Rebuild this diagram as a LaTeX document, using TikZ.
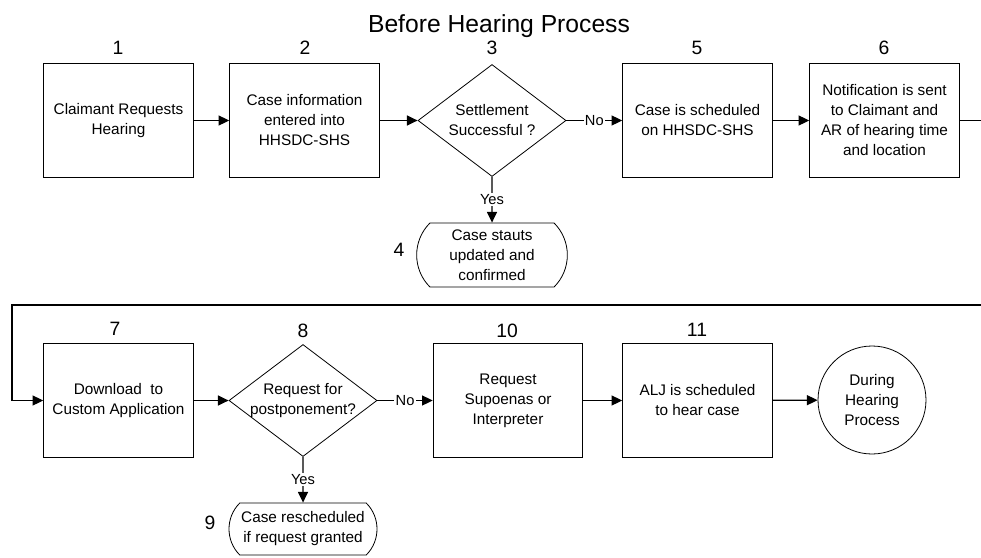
\documentclass[tikz,border=0pt]{standalone}
\usepackage{fontspec}
\setmainfont{Liberation Sans}
\usetikzlibrary{positioning,arrows.meta,shapes.geometric,shapes.misc}
\tikzset{
  stepbox/.style={draw,line width=0.9pt,minimum width=112pt,minimum height=85pt,align=center,font=\fontsize{11.5}{15}\selectfont},
  decide/.style={draw,diamond,aspect=1.33,line width=0.6pt,inner xsep=-3pt,inner ysep=0pt,minimum width=111pt,minimum height=84pt,align=center,font=\fontsize{11.5}{15}\selectfont},
  endcap/.style={draw,rounded rectangle,rounded rectangle arc length=90,line width=0.6pt,inner xsep=0pt,align=center,font=\fontsize{11.5}{15}\selectfont},
  num/.style={font=\fontsize{14.5}{17}\selectfont},
  tag/.style={fill=white,inner sep=1pt,font=\fontsize{11}{13}\selectfont},
  flow/.style={line width=0.9pt,-{Triangle[length=8pt,width=7.5pt]}}
}
\begin{document}
\begin{tikzpicture}[x=0.75pt,y=-0.75pt]
\useasboundingbox (0,0) rectangle (981,557);
\node (title) [font=\fontsize{18.5}{22}\selectfont] at (499,26) {Before Hearing Process};

\node (b1) [stepbox] at (118.5,120.5) {Claimant Requests\\Hearing};
\node (b2) [stepbox] at (304.5,120.5) {Case information\\entered into\\HHSDC-SHS};
\node (d3) [decide] at (492,120.5) {Settlement\\Successful ?};
\node (t4) [endcap,minimum width=113pt,minimum height=48pt] at (492,255) {Case stauts\\updated and\\confirmed};
\node (b5) [stepbox] at (697.5,120.5) {Case is scheduled\\on HHSDC-SHS};
\node (b6) [stepbox] at (884.5,120.5) {Notification is sent\\to Claimant and\\AR of hearing time\\and location};

\node (b7) [stepbox] at (118.5,400.5) {Download\ \ to\\Custom Application};
\node (d8) [decide] at (303,400.5) {Request for\\postponement?};
\node (t9) [endcap,minimum width=111pt,minimum height=39pt] at (303,529) {Case rescheduled\\if request granted};
\node (b10) [stepbox] at (508,400.5) {Request\\Supoenas or\\Interpreter};
\node (b11) [stepbox] at (697.5,400.5) {ALJ is scheduled\\to hear case};
\node (fin) [draw,circle,line width=0.6pt,minimum size=81pt,align=center,font=\fontsize{11.5}{15}\selectfont] at (872,400) {During\\Hearing\\Process};

\node (n1) [num] at (118,47.5) {1};
\node (n2) [num] at (305,47.5) {2};
\node (n3) [num] at (492,47.5) {3};
\node (n4) [num] at (399,250) {4};
\node (n5) [num] at (697,47.5) {5};
\node (n6) [num] at (884,47.5) {6};
\node (n7) [num] at (115,329) {7};
\node (n8) [num] at (303,331) {8};
\node (n9) [num] at (210,523) {9};
\node (n10) [num] at (507,331) {10};
\node (n11) [num] at (697,330) {11};

\coordinate (rimTop) at (1000,120.5);
\coordinate (rimLow) at (1000,305);
\coordinate (rimLeft) at (12,305);

\draw[flow] (b1) -- (b2);
\draw[flow] (b2) -- (d3);
\draw[flow] (d3) -- node[tag] {No} (b5);
\draw[flow] (d3) -- node[tag] {Yes} (t4);
\draw[flow] (b5) -- (b6);
\draw[flow] (b6) -- (rimTop) -- (rimLow) -- (rimLeft) |- (b7);
\draw[flow] (b7) -- (d8);
\draw[flow] (d8) -- node[tag] {No} (b10);
\draw[flow] (d8) -- node[tag] {Yes} (t9);
\draw[flow] (b10) -- (b11);
\draw[flow] (b11) -- (fin);
\end{tikzpicture}
\end{document}
